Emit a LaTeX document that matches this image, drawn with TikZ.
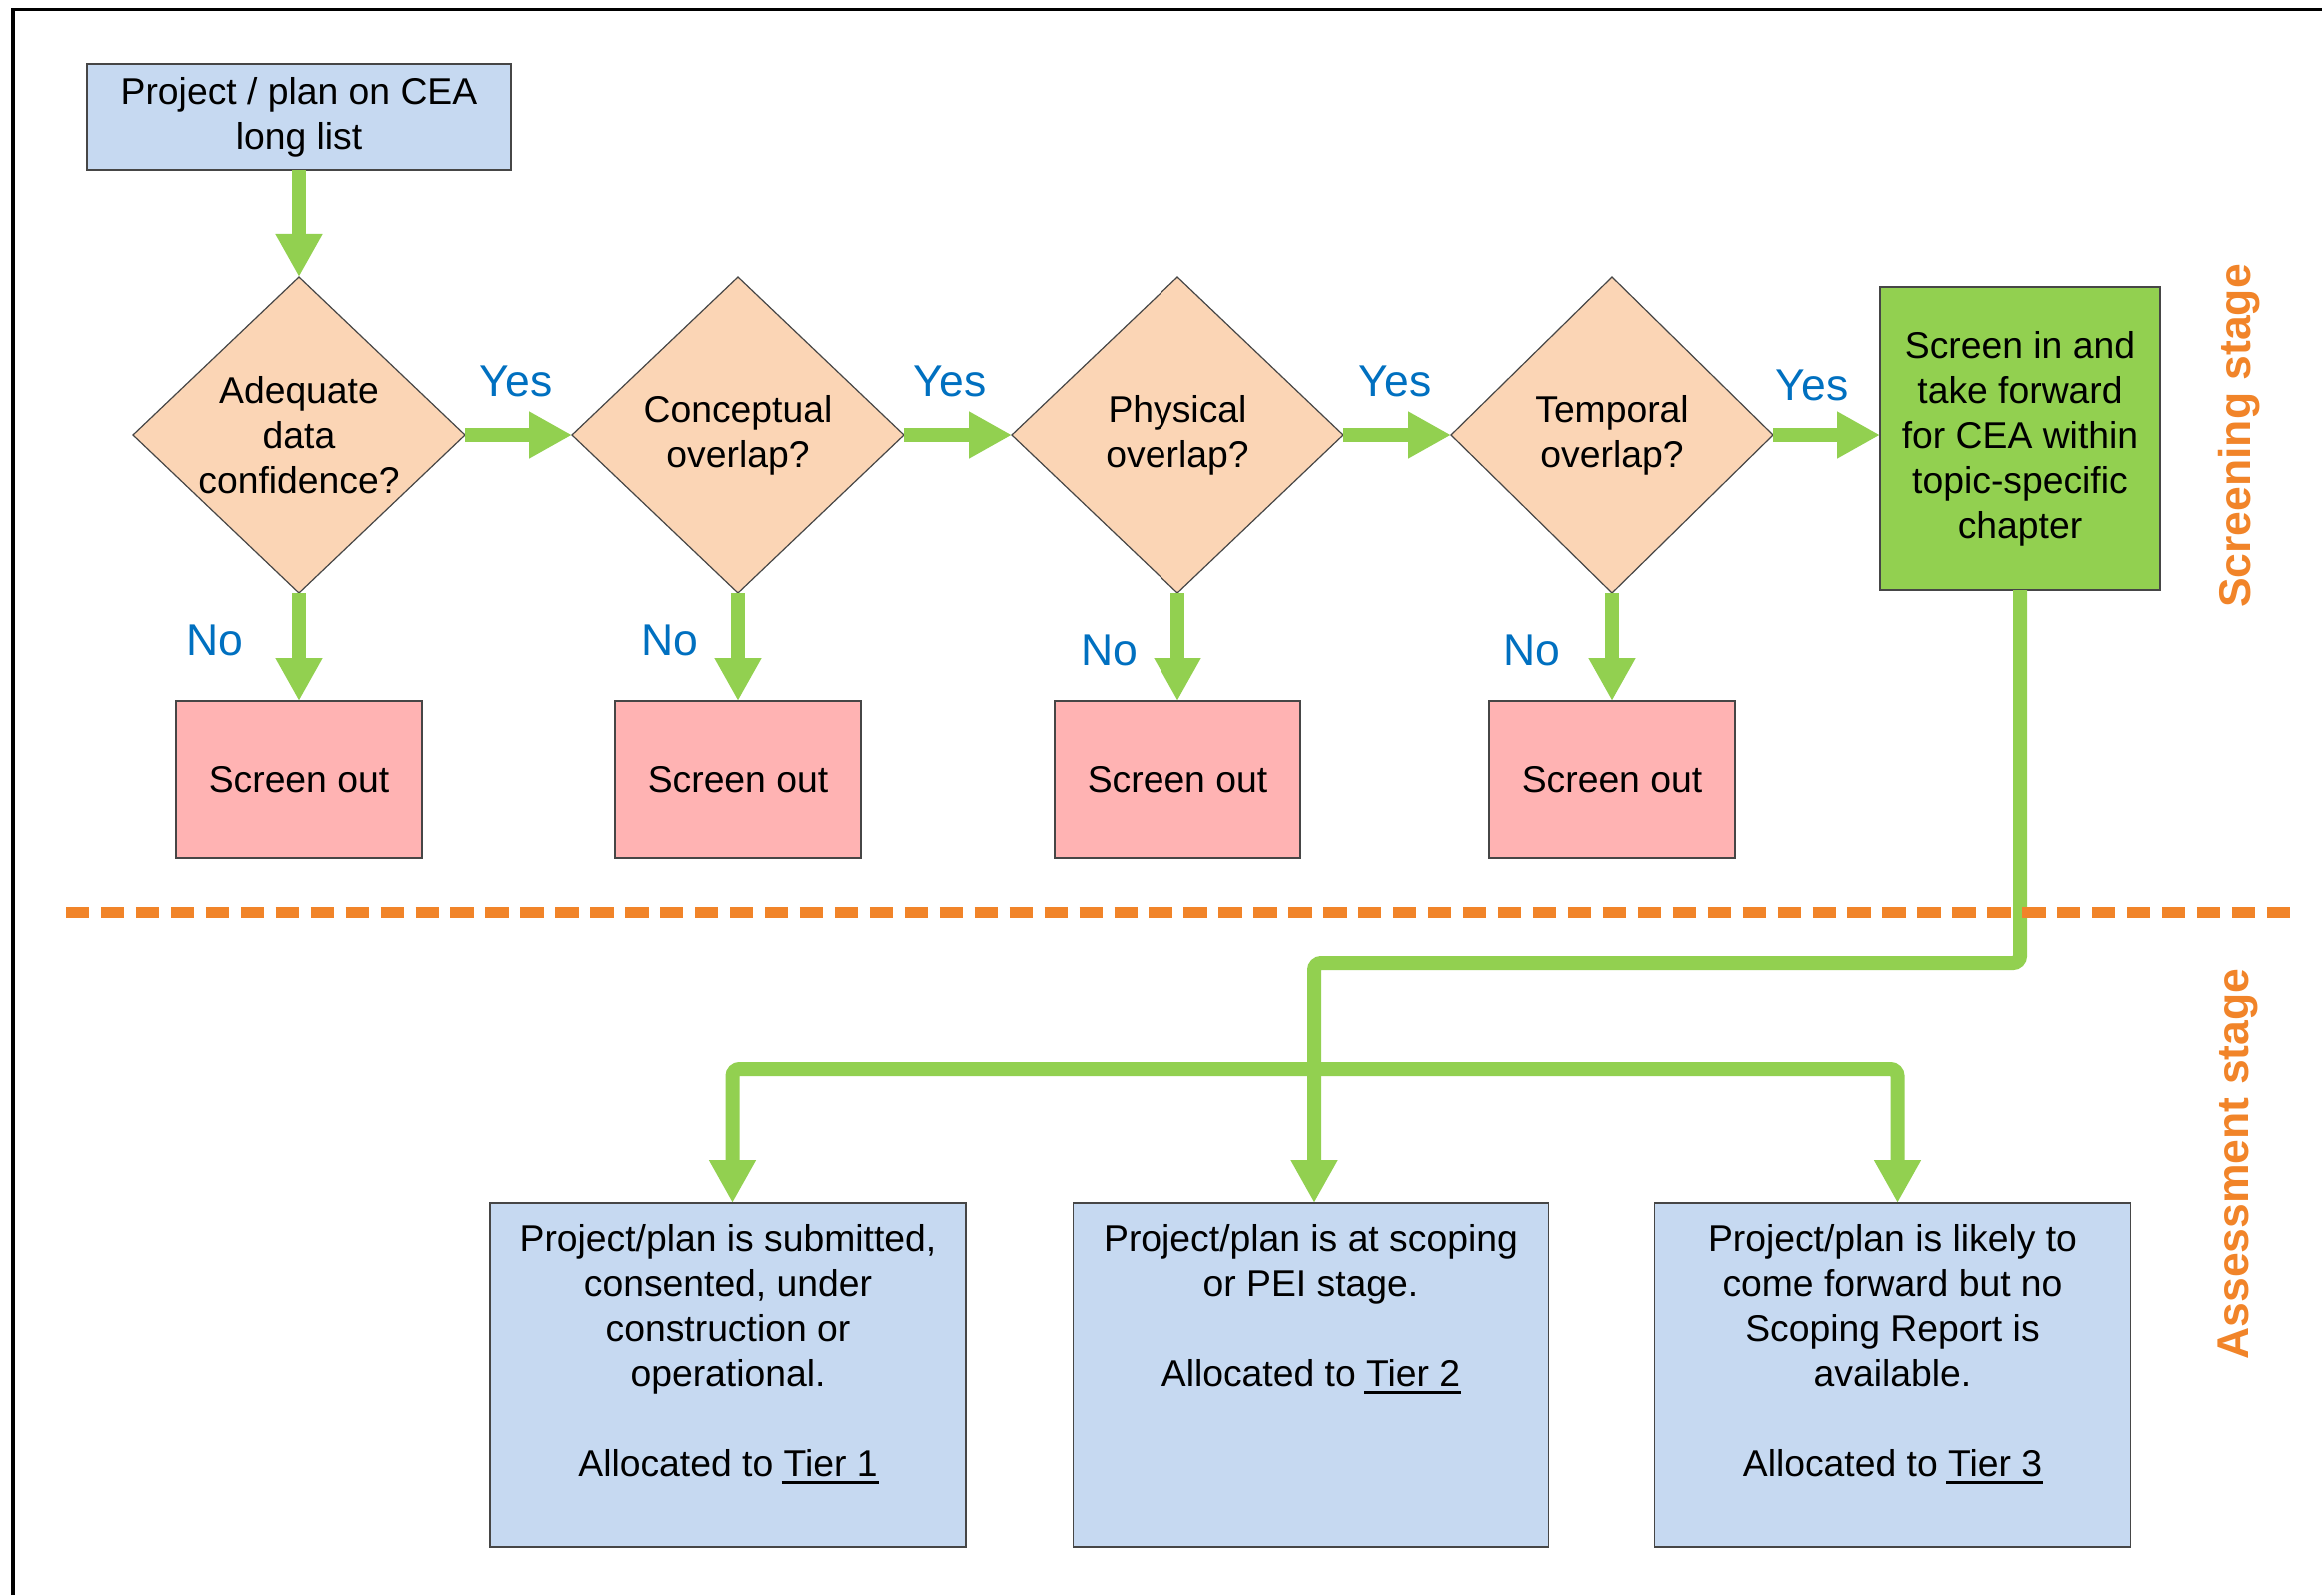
\documentclass[tikz,border=0pt]{standalone}
\usepackage{fontspec}
\setmainfont{Liberation Sans}
\usetikzlibrary{shapes.geometric,arrows.meta}
\definecolor{boxblue}{RGB}{198,217,241}
\definecolor{peach}{RGB}{251,213,181}
\definecolor{pinkbox}{RGB}{255,179,179}
\definecolor{flowgreen}{RGB}{146,208,80}
\definecolor{labelblue}{RGB}{0,112,192}
\definecolor{stageorange}{RGB}{241,132,41}
\definecolor{edgegray}{RGB}{70,70,70}
\newcommand\bodyfont{\fontsize{37.3pt}{45pt}\selectfont}
\newcommand\labelfont{\fontsize{44.5pt}{53pt}\selectfont}
\newsavebox\ulbox
\newcommand\tierul[1]{\sbox\ulbox{#1}\rlap{\hspace{-2pt}\rule[-8pt]{\dimexpr\wd\ulbox+3pt\relax}{3pt}}\usebox\ulbox}
\begin{document}
\begin{tikzpicture}[x=1pt,y=-1pt,
  every node/.style={inner sep=0pt, outer sep=0pt},
  boxbase/.style={draw=edgegray, line width=1.4pt, rectangle},
  startbox/.style={boxbase, fill=boxblue, minimum width=424pt, minimum height=106pt, font=\bodyfont, align=center},
  dec/.style={diamond, draw=edgegray, line width=1.2pt, fill=peach, minimum width=332pt, minimum height=316pt},
  dectext/.style={font=\bodyfont, align=center},
  outbox/.style={boxbase, fill=pinkbox, minimum width=246pt, minimum height=158pt, font=\bodyfont},
  inbox/.style={boxbase, fill=flowgreen, minimum width=280pt, minimum height=303pt, font=\bodyfont, align=center},
  tierbox/.style={boxbase, fill=boxblue, minimum width=476pt, minimum height=344pt},
  tiertext/.style={font=\bodyfont, align=center, anchor=north},
  yn/.style={font=\labelfont, text=labelblue},
  stage/.style={font=\labelfont\bfseries, text=stageorange, rotate=90},
  flow/.style={draw=flowgreen, line width=14pt, -{Triangle[width=44pt,length=43pt]}},
  flowboth/.style={draw=flowgreen, line width=14pt, {Triangle[width=44pt,length=43pt]}-{Triangle[width=44pt,length=43pt]}},
  divider/.style={draw=stageorange, line width=11pt, dash pattern=on 23.3pt off 11.65pt},
  frameline/.style={draw=black, line width=3.5pt}
]
\useasboundingbox (0,0) rectangle (2323,1596);
\fill[white] (0,0) rectangle (2323,1596);

% frame
\coordinate (fa) at (13,1596);
\coordinate (fb) at (13,9.5);
\coordinate (fc) at (2323,9.5);
\draw[frameline] (fa) -- (fb) -- (fc);

% start
\node[startbox] (start) at (299,117) {Project / plan on CEA\\long list};

% decisions
\node[dec] (d1) at (299,435) {};
\node[dectext] (d1t) at (d1) {Adequate\\data\\confidence?};
\node[dec] (d2) at (738,435) {};
\node[dectext] (d2t) at (d2) {Conceptual\\overlap?};
\node[dec] (d3) at (1178,435) {};
\node[dectext] (d3t) at (d3) {Physical\\overlap?};
\node[dec, minimum width=322pt] (d4) at (1613,435) {};
\node[dectext] (d4t) at (d4) {Temporal\\overlap?};

% screen in
\node[inbox] (g) at (2021,438.5) {Screen in and\\take forward\\for CEA within\\topic-specific\\chapter};

% screen out
\node[outbox] (o1) at (299,780) {Screen out};
\node[outbox] (o2) at (738,780) {Screen out};
\node[outbox] (o3) at (1178,780) {Screen out};
\node[outbox] (o4) at (1613,780) {Screen out};

% tier boxes
\node[tierbox] (b1) at (728,1376) {};
\node[tiertext] (b1t) at ([yshift=-18pt]b1.north) {\rule{0pt}{30pt}Project/plan is submitted,\\consented, under\\construction or\\operational.\\[45pt]Allocated to \tierul{Tier 1}};
\node[tierbox] (b2) at (1311.5,1376) {};
\node[tiertext] (b2t) at ([yshift=-18pt]b2.north) {\rule{0pt}{30pt}Project/plan is at scoping\\or PEI stage.\\[45pt]Allocated to \tierul{Tier 2}};
\node[tierbox] (b3) at (1893.5,1376) {};
\node[tiertext] (b3t) at ([yshift=-18pt]b3.north) {\rule{0pt}{30pt}Project/plan is likely to\\come forward but no\\Scoping Report is\\available.\\[45pt]Allocated to \tierul{Tier 3}};

% labels
\node[yn] (y1) at (516,381) {Yes};
\node[yn] (y2) at (950,381) {Yes};
\node[yn] (y3) at (1396,381) {Yes};
\node[yn] (y4) at (1813,385) {Yes};
\node[yn] (n1) at (215,640) {No};
\node[yn] (n2) at (670,640) {No};
\node[yn] (n3) at (1110,650) {No};
\node[yn] (n4) at (1533,650) {No};

\node[stage] (s1) at (2240,436) {Screening stage};
\node[stage] (s2) at (2239,1165) {Assessment stage};

% arrows
\draw[flow] (start) -- (d1);
\draw[flow] (d1) -- (d2);
\draw[flow] (d2) -- (d3);
\draw[flow] (d3) -- (d4);
\draw[flow] (d4.east) -- (d4.east -| g.west);
\draw[flow] (d1) -- (o1);
\draw[flow] (d2) -- (o2);
\draw[flow] (d3) -- (o3);
\draw[flow] (d4) -- (o4);

\coordinate (j1) at (1315,964);
\coordinate (j2) at (1315,1070);
\draw[flow, rounded corners=7pt] (g.south) |- (j1) -- ([xshift=3.5pt]b2.north);
\draw[flowboth, rounded corners=7pt] ([xshift=4.5pt]b1.north) |- (j2) -| ([xshift=5pt]b3.north);

% divider
\coordinate (dl) at (66,913);
\coordinate (dr) at (2291,913);
\draw[divider] (dl) -- (dr);
\end{tikzpicture}
\end{document}
